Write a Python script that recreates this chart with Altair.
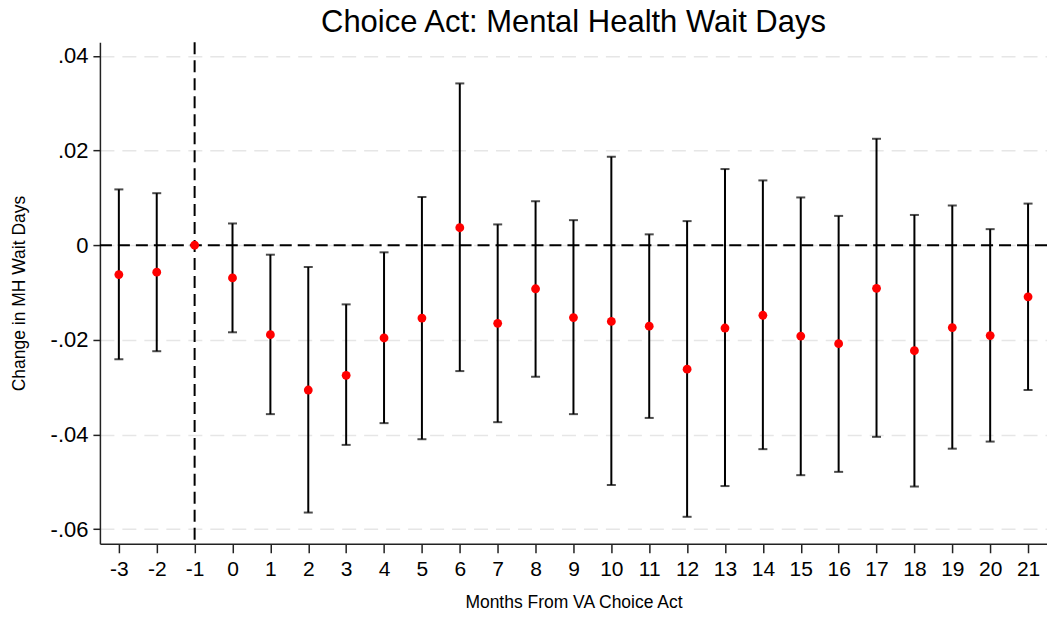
import altair as alt
import pandas as pd

months = list(range(-3, 22))
coef = [-0.0062, -0.0057, 0.0, -0.0069, -0.0189, -0.0306, -0.0275, -0.0196, -0.0154, 0.0037,
        -0.0165, -0.0092, -0.0153, -0.0161, -0.0171, -0.0262, -0.0175, -0.0148, -0.0192, -0.0208,
        -0.0091, -0.0223, -0.0174, -0.0191, -0.0109]
upper = [0.0118, 0.0110, None, 0.0046, -0.0020, -0.0046, -0.0125, -0.0015, 0.0102, 0.0342,
         0.0044, 0.0093, 0.0053, 0.0187, 0.0023, 0.0051, 0.0161, 0.0137, 0.0101, 0.0062,
         0.0225, 0.0064, 0.0084, 0.0034, 0.0088]
lower = [-0.0241, -0.0224, None, -0.0184, -0.0357, -0.0565, -0.0422, -0.0376, -0.0410, -0.0266,
         -0.0374, -0.0278, -0.0357, -0.0507, -0.0365, -0.0574, -0.0509, -0.0431, -0.0486, -0.0479,
         -0.0405, -0.0510, -0.0430, -0.0415, -0.0306]
y_ticks = [-0.06, -0.04, -0.02, 0.0, 0.02, 0.04]

df = pd.DataFrame({"month": months, "coef": coef, "upper": upper, "lower": lower})

FONT = "Liberation Sans"
xscale = alt.Scale(domain=[-3.5, 21.5], nice=False, zero=False)
yscale = alt.Scale(domain=[-0.0631, 0.0429], nice=False, zero=False)

xax = alt.Axis(values=months, tickCount=25, title="Months From VA Choice Act", grid=False,
               labelExpr="'' + datum.value", labelOverlap=False, labelSeparation=0,
               labelFontSize=21, labelFont=FONT, labelColor="black", labelPadding=6,
               tickSize=9, tickColor="#222", tickWidth=1.5, domainColor="#222", domainWidth=1.5,
               titleFont=FONT, titleFontSize=17.5, titleFontWeight="normal", titleColor="black",
               titlePadding=14, labelFlush=False)
yax = alt.Axis(values=y_ticks, title="Change in MH Wait Days",
               labelExpr="datum.value == 0 ? '0' : replace(replace(format(datum.value, '.2f'), '\u2212', '-'), '0.', '.')",
               labelOverlap=False,
               labelFontSize=22, labelFont=FONT, labelColor="black", labelPadding=5,
               tickSize=7, tickColor="#222", tickWidth=1.5, domainColor="#222", domainWidth=1.5,
               grid=True, gridColor="#e6e6e6", gridDash=[14, 8], gridWidth=1.5,
               titleFont=FONT, titleFontSize=17.5, titleFontWeight="normal", titleColor="black",
               titlePadding=22, labelFlush=False)

base = alt.Chart(df)
ci = base.transform_filter("isValid(datum.upper)")

bars = ci.mark_rule(color="black", strokeWidth=2).encode(
    x=alt.X("month:Q", scale=xscale, axis=xax),
    y=alt.Y("lower:Q", scale=yscale, axis=yax),
    y2="upper:Q",
)
caps_hi = ci.mark_tick(color="black", thickness=2, size=9, orient="horizontal").encode(
    x=alt.X("month:Q", scale=xscale, axis=xax), y=alt.Y("upper:Q", scale=yscale, axis=yax))
caps_lo = ci.mark_tick(color="black", thickness=2, size=9, orient="horizontal").encode(
    x=alt.X("month:Q", scale=xscale, axis=xax), y=alt.Y("lower:Q", scale=yscale, axis=yax))

hline = alt.Chart(pd.DataFrame({"y": [0.0]})).mark_rule(
    color="black", strokeWidth=2, strokeDash=[12, 6]).encode(y=alt.Y("y:Q", scale=yscale, axis=yax))
vline = alt.Chart(pd.DataFrame({"x": [-1]})).mark_rule(
    color="black", strokeWidth=2, strokeDash=[12, 6]).encode(x=alt.X("x:Q", scale=xscale, axis=xax))

points = base.mark_circle(color="#ff0000", opacity=1, size=78).encode(
    x=alt.X("month:Q", scale=xscale, axis=xax), y=alt.Y("coef:Q", scale=yscale, axis=yax))

chart = alt.layer(bars, caps_hi, caps_lo, hline, vline, points).properties(
    width=948, height=502,
    background="white",
    autosize=alt.AutoSizeParams(type="none"),
    padding={"left": 92, "top": 34, "right": 0, "bottom": 75},
    title=alt.TitleParams("Choice Act: Mental Health Wait Days", font=FONT, fontSize=31,
                          fontWeight="normal", color="black", anchor="middle", offset=2),
).configure_view(stroke="transparent", strokeWidth=0)

chart.save("out.html", embed_options={"renderer": "svg", "actions": False})
